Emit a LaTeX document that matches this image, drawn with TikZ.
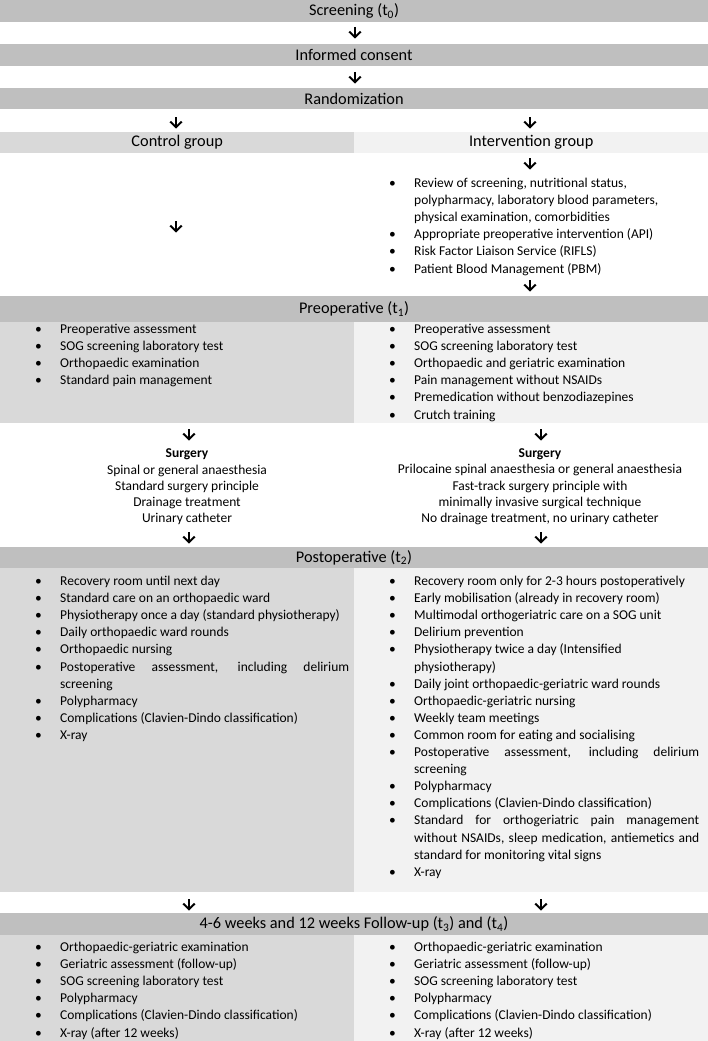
\documentclass[tikz,border=0pt]{standalone}
\usepackage{fontspec}
\setmainfont{Carlito}
\usetikzlibrary{arrows.meta}
\definecolor{bandgray}{HTML}{BFBFBF}
\definecolor{leftgray}{HTML}{D9D9D9}
\definecolor{rightgray}{HTML}{F2F2F2}
\newlength{\hangw}
\setlength{\hangw}{25pt}
\newcommand{\bitem}{\par\hangindent=\hangw\hangafter=1\noindent\makebox[\hangw][l]{\textbullet}}
\newcommand{\blist}[1]{\parbox[t]{330pt}{\fontsize{13.5}{17.1}\selectfont\raggedright\setlength{\parskip}{0pt}#1}}
\newcommand{\jline}[2]{\makebox[#1][s]{#2}}
\newcommand{\arrowat}[3]{\coordinate (#1s) at (#2,#3-6); \coordinate (#1e) at (#2,#3+5.5); \draw[flowarrow] (#1s) -- (#1e);}
\tikzset{
  band/.style={fill=bandgray, minimum width=708pt, inner sep=0pt, font=\fontsize{16.3}{19}\selectfont},
  lpanel/.style={fill=leftgray, minimum width=354pt, inner sep=0pt, anchor=north west},
  rpanel/.style={fill=rightgray, minimum width=354pt, inner sep=0pt, anchor=north west},
  listnode/.style={anchor=base west, inner sep=0pt},
  surg/.style={align=center, inner sep=0pt, font=\fontsize{13.5}{16.3}\selectfont},
  flowarrow/.style={line width=2pt, -{Straight Barb[length=5.5pt, width=11.5pt]}}
}
\begin{document}
\begin{tikzpicture}[x=1pt, y=-1pt]
\useasboundingbox (0,0) rectangle (708,1041);
% top bands
\node[band, minimum height=22pt] (screen) at (354,11) {Screening (t\textsubscript{0})};
\node[band, minimum height=22pt] (consent) at (354,55) {Informed consent};
\node[band, minimum height=21pt] (random) at (354,98.5) {Randomization};
\arrowat{a1}{355}{33}
\arrowat{a2}{355}{78}
\arrowat{a3}{176}{123}
\arrowat{a4}{530}{123}
% groups
\node[lpanel, minimum height=21pt, font=\fontsize{16.3}{19}\selectfont] (control) at (0,132) {Control group};
\node[rpanel, minimum height=21pt, font=\fontsize{16.3}{19}\selectfont] (interv) at (354,132) {Intervention group};
\arrowat{a5}{530}{164}
\arrowat{a6}{176}{227}
\node[listnode] (intlist) at (389,187.5) {\blist{%
\bitem Review of screening, nutritional status,\newline polypharmacy, laboratory blood parameters,\newline physical examination, comorbidities
\bitem Appropriate preoperative intervention (API)
\bitem Risk Factor Liaison Service (RIFLS)
\bitem Patient Blood Management (PBM)}};
\arrowat{a7}{530}{286}
% preoperative
\node[band, minimum height=26pt] (preop) at (354,309) {Preoperative (t\textsubscript{1})};
\node[lpanel, minimum height=101pt] (preopL) at (0,322) {};
\node[rpanel, minimum height=101pt] (preopR) at (354,322) {};
\node[listnode] (preopLlist) at (35,333.5) {\blist{%
\bitem Preoperative assessment
\bitem SOG screening laboratory test
\bitem Orthopaedic examination
\bitem Standard pain management}};
\node[listnode] (preopRlist) at (389,333.5) {\blist{%
\bitem Preoperative assessment
\bitem SOG screening laboratory test
\bitem Orthopaedic and geriatric examination
\bitem Pain management without NSAIDs
\bitem Premedication without benzodiazepines
\bitem Crutch training}};
\arrowat{a8}{189}{435}
\arrowat{a9}{541}{435}
% surgery
\node[surg] (surgL) at (187,487) {\textbf{Surgery}\\Spinal or general anaesthesia\\Standard surgery principle\\Drainage treatment\\Urinary catheter};
\node[surg] (surgR) at (540,487) {\textbf{Surgery}\\Prilocaine spinal anaesthesia or\ general anaesthesia\\Fast-track surgery principle with\\minimally invasive surgical technique\\No drainage treatment, no urinary catheter};
\arrowat{a10}{189}{538}
\arrowat{a11}{541}{538}
% postoperative
\node[band, minimum height=21pt] (postop) at (354,557.5) {Postoperative (t\textsubscript{2})};
\node[lpanel, minimum height=324pt] (postopL) at (0,568) {};
\node[rpanel, minimum height=324pt] (postopR) at (354,568) {};
\node[listnode] (postopLlist) at (35,585.5) {\blist{%
\bitem Recovery room until next day
\bitem Standard care on an orthopaedic ward
\bitem Physiotherapy once a day (standard physiotherapy)
\bitem Daily orthopaedic ward rounds
\bitem Orthopaedic nursing
\bitem \jline{289pt}{Postoperative assessment, including delirium}\newline screening
\bitem Polypharmacy
\bitem Complications (Clavien-Dindo classification)
\bitem X-ray}};
\node[listnode] (postopRlist) at (389,585.5) {\blist{%
\bitem Recovery room only for 2-3 hours postoperatively
\bitem Early mobilisation (already in recovery room)
\bitem Multimodal orthogeriatric care on a SOG unit
\bitem Delirium prevention
\bitem Physiotherapy twice a day (Intensified\newline physiotherapy)
\bitem Daily joint orthopaedic-geriatric ward rounds
\bitem Orthopaedic-geriatric nursing
\bitem Weekly team meetings
\bitem Common room for eating and socialising
\bitem \jline{285pt}{Postoperative assessment, including delirium}\newline screening
\bitem Polypharmacy
\bitem Complications (Clavien-Dindo classification)
\bitem \jline{285pt}{Standard for orthogeriatric pain management}\newline \jline{285pt}{without NSAIDs, sleep medication, antiemetics and}\newline standard for monitoring vital signs
\bitem X-ray}};
\arrowat{a12}{189}{905}
\arrowat{a13}{541}{905}
% follow-up
\node[band, minimum height=22pt] (follow) at (354,924) {4-6 weeks and 12 weeks Follow-up (t\textsubscript{3}) and (t\textsubscript{4})};
\node[lpanel, minimum height=106pt] (followL) at (0,935) {};
\node[rpanel, minimum height=106pt] (followR) at (354,935) {};
\node[listnode] (followLlist) at (35,951.5) {\blist{%
\bitem Orthopaedic-geriatric examination
\bitem Geriatric assessment (follow-up)
\bitem SOG screening laboratory test
\bitem Polypharmacy
\bitem Complications (Clavien-Dindo classification)
\bitem X-ray (after 12 weeks)}};
\node[listnode] (followRlist) at (389,951.5) {\blist{%
\bitem Orthopaedic-geriatric examination
\bitem Geriatric assessment (follow-up)
\bitem SOG screening laboratory test
\bitem Polypharmacy
\bitem Complications (Clavien-Dindo classification)
\bitem X-ray (after 12 weeks)}};
\end{tikzpicture}
\end{document}
